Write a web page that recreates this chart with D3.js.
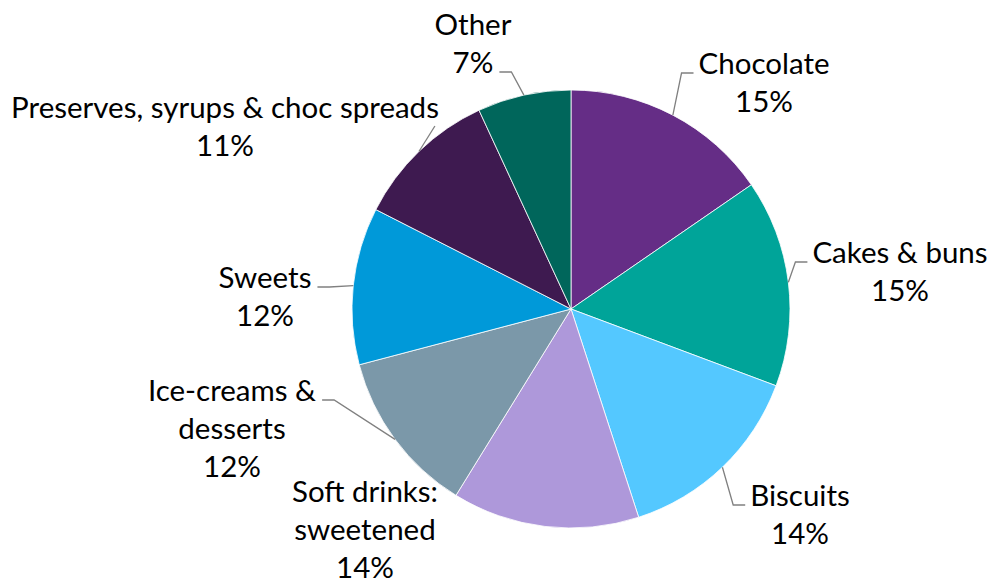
<!DOCTYPE html>
<html>
<head>
<meta charset="utf-8">
<script src="https://cdn.jsdelivr.net/npm/d3@7"></script>
<style>
  html, body { margin: 0; padding: 0; background: #ffffff; }
  svg { display: block; }
  text { font-family: Lato, "Noto Sans", sans-serif; fill: #000000; }
</style>
</head>
<body>
<svg id="chart" width="995" height="581"></svg>
<script>
// Share of sugar intake by product group (percent)
const categories = [
  "Chocolate",
  "Cakes & buns",
  "Biscuits",
  "Soft drinks: sweetened",
  "Ice-creams & desserts",
  "Sweets",
  "Preserves, syrups & choc spreads",
  "Other"
];
const shares = [15.4, 15.3, 14.3, 13.8, 12.1, 11.6, 10.6, 6.9];

// Label text split into lines (the percentage line is appended from the value)
const labelLines = [
  ["Chocolate"],
  ["Cakes & buns"],
  ["Biscuits"],
  ["Soft drinks:", "sweetened"],
  ["Ice-creams &", "desserts"],
  ["Sweets"],
  ["Preserves, syrups & choc spreads"],
  ["Other"]
];

const sliceColors = ["#652D86", "#00A499", "#54C8FF", "#AE98DA", "#7B98A9", "#0099D9", "#3E1A50", "#00665B"];

// Label block placement: centre x, first baseline y, and where the leader meets the text
const labelLayout = [
  { x: 764, y: 74,  leader: { line: 0, side: "left" } },
  { x: 900, y: 263, leader: { line: 0, side: "left" } },
  { x: 800, y: 506, leader: { line: 0, side: "left" } },
  { x: 365, y: 502, leader: null },
  { x: 232, y: 401, leader: { line: 0, side: "right" } },
  { x: 265, y: 288, leader: { line: 0, side: "right" } },
  { x: 225, y: 118, leader: { line: 0, side: "below" } },
  { x: 473, y: 35,  leader: { line: 1, side: "right" } }
];

const width = 995, height = 581;
const cx = 571, cy = 309, radius = 219;
const fontSize = 29.5, lineGap = 38;

const svg = d3.select("#chart");
const g = svg.append("g").attr("transform", `translate(${cx},${cy})`);

const color = d3.scaleOrdinal().domain(categories).range(sliceColors);

const pie = d3.pie().sort(null).value(d => d.value).startAngle(0).endAngle(2 * Math.PI);
const data = categories.map((c, i) => ({ name: c, value: shares[i], lines: labelLines[i], layout: labelLayout[i] }));
const arcs = pie(data);

const arc = d3.arc().innerRadius(0).outerRadius(radius);
const edge = d3.arc().innerRadius(radius).outerRadius(radius);

g.selectAll("path.slice")
  .data(arcs)
  .join("path")
  .attr("class", "slice")
  .attr("d", arc)
  .attr("fill", d => color(d.data.name))
  .attr("stroke", "#ffffff")
  .attr("stroke-width", 0.8);

// Labels with elbow leader lines from the slice's outer edge
const labels = svg.append("g").attr("class", "labels");
arcs.forEach(a => {
  const d = a.data;
  const pct = Math.round(d.value) + "%";
  const lines = d.lines.concat([pct]);
  const t = labels.append("text")
    .attr("text-anchor", "middle")
    .attr("font-size", fontSize);
  const spans = lines.map((ln, k) => t.append("tspan")
    .attr("x", d.layout.x)
    .attr("y", d.layout.y + k * lineGap)
    .text(ln));

  if (!d.layout.leader) return;
  const L = d.layout.leader;
  const box = spans[L.line].node().getBBox();
  const base = d.layout.y + L.line * lineGap - 1;
  const [sx, sy] = edge.centroid(a);
  const start = [sx + cx, sy + cy];
  let pts;
  if (L.side === "left") {
    const end = [box.x - 5, base];
    pts = [start, [end[0] - 12, base], end];
  } else if (L.side === "right") {
    const end = [box.x + box.width + 6, base];
    pts = [start, [end[0] + 12, base], end];
  } else {
    pts = [start, [box.x + box.width - 4, base + 9]];
  }
  svg.append("path")
    .attr("d", d3.line()(pts))
    .attr("fill", "none")
    .attr("stroke", "#808080")
    .attr("stroke-width", 1.3);
});
</script>
</body>
</html>
